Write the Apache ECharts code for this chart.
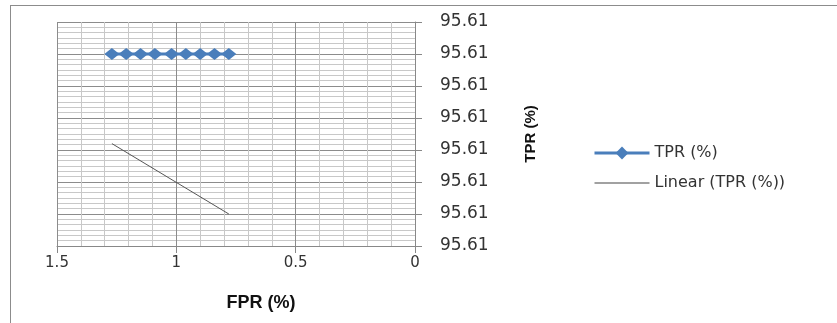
<!DOCTYPE html>
<html>
<head>
<meta charset="utf-8">
<script src="https://cdn.jsdelivr.net/npm/echarts@6/dist/echarts.min.js"></script>
<style>
  html, body { margin: 0; padding: 0; background: #fff; }
  #frame {
    position: absolute; left: 10px; top: 5px; width: 900px; height: 400px;
    border-top: 1px solid #8c8c8c; border-left: 1px solid #8c8c8c;
  }
  #chart { position: absolute; left: 0; top: 0; width: 837px; height: 323px; }
</style>
</head>
<body>
<div id="frame"></div>
<div id="chart"></div>
<script>
// TPR vs FPR points (all TPR values round to 95.61)
const fprValues = [1.27, 1.21, 1.15, 1.09, 1.02, 0.96, 0.90, 0.84, 0.78]
const tprValues = [95.6105, 95.6105, 95.6105, 95.6105, 95.6105, 95.6105, 95.6105, 95.6105, 95.6105]

// linear trendline end points
const trendFpr = [1.27, 0.78]
const trendTpr = [95.6091, 95.6080]

const chart = echarts.init(document.getElementById('chart'))

chart.setOption({
  animation: false,
  grid: {
    left: 57,
    right: 422,
    top: 22,
    bottom: 77
  },

  legend: {
    orient: 'vertical',
    left: 588,
    top: 140,
    itemWidth: 55,
    itemHeight: 16,
    itemGap: 14,
    textStyle: {
      fontFamily: 'DejaVu Sans',
      fontSize: 16,
      color: '#333'
    },
    data: [
      { name: 'TPR (%)', lineStyle: { width: 3, color: '#4A7EBB' } },
      { name: 'Linear (TPR (%))', itemStyle: { opacity: 0 }, lineStyle: { width: 1.2, color: '#444' } }
    ]
  },

  xAxis: {
    type: 'value',
    inverse: true,
    min: 0,
    max: 1.5,
    interval: 0.5,
    name: 'FPR (%)',
    nameLocation: 'middle',
    nameGap: 48,
    nameTextStyle: {
      fontFamily: 'Liberation Sans',
      fontWeight: 'bold',
      fontSize: 18,
      color: '#111',
      padding: [0, 0, 0, 50]
    },
    axisLine: { show: true, lineStyle: { color: '#888', width: 1 } },
    axisTick: { show: true, length: 7, lineStyle: { color: '#888' } },
    axisLabel: {
      margin: 10,
      fontFamily: 'DejaVu Sans',
      fontSize: 15,
      color: '#333'
    },
    splitLine: { show: true, lineStyle: { color: '#8c8c8c', width: 1 } },
    minorSplitLine: { show: true, lineStyle: { color: '#c8c8c8', width: 1 } },
    minorTick: { show: false, splitNumber: 5 }
  },

  yAxis: {
    type: 'value',
    position: 'right',
    min: 95.6075,
    max: 95.611,
    interval: 0.0005,
    name: 'TPR (%)',
    nameLocation: 'middle',
    nameRotate: 90,
    nameGap: 108,
    nameTextStyle: {
      fontFamily: 'Liberation Sans',
      fontWeight: 'bold',
      fontSize: 15,
      color: '#111'
    },
    axisLine: { show: true, lineStyle: { color: '#888', width: 1 } },
    axisTick: { show: true, length: 7, lineStyle: { color: '#888' } },
    axisLabel: {
      margin: 25,
      fontFamily: 'DejaVu Sans',
      fontSize: 17,
      color: '#333',
      formatter: (v) => v.toFixed(2)
    },
    splitLine: { show: true, lineStyle: { color: '#8c8c8c', width: 1 } },
    minorSplitLine: { show: true, lineStyle: { color: '#c8c8c8', width: 1 } },
    minorTick: { show: false, splitNumber: 6 }
  },

  series: [
    {
      name: 'TPR (%)',
      type: 'line',
      data: fprValues.map((x, i) => [x, tprValues[i]]),
      symbol: 'diamond',
      symbolSize: [15, 12],
      itemStyle: { color: '#4A7EBB' },
      lineStyle: { color: '#4A7EBB', width: 3 },
      z: 3
    },
    {
      name: 'Linear (TPR (%))',
      type: 'line',
      data: trendFpr.map((x, i) => [x, trendTpr[i]]),
      symbol: 'none',
      itemStyle: { color: '#555' },
      lineStyle: { color: '#555', width: 1 },
      z: 2
    }
  ]
})
</script>
</body>
</html>
